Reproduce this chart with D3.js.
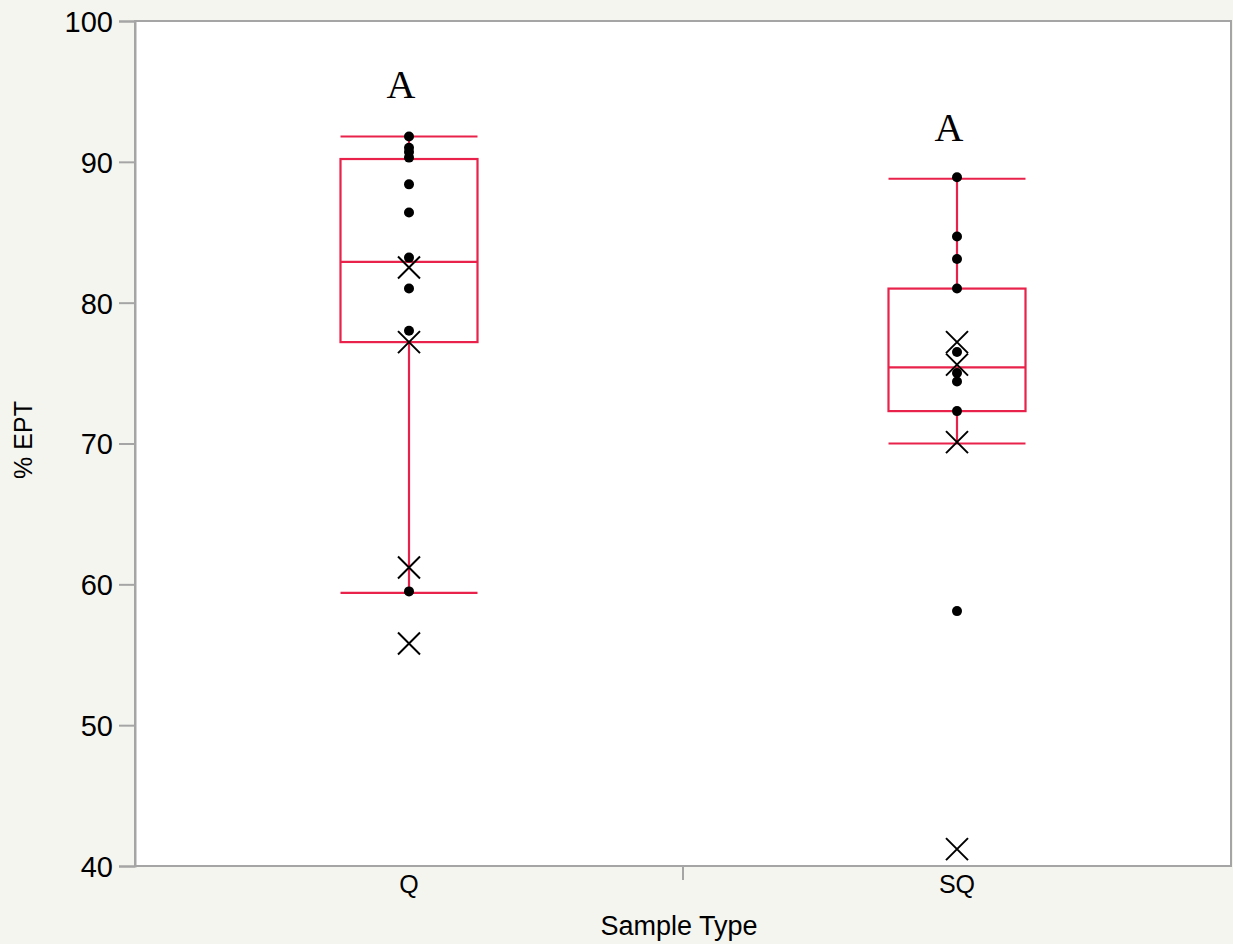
<!DOCTYPE html>
<html>
<head>
<meta charset="utf-8">
<script src="https://cdn.jsdelivr.net/npm/d3@7"></script>
<style>
  body { margin: 0; background: #f5f5f0; }
  svg { display: block; }
</style>
</head>
<body>
<div id="chart"></div>
<script>
// categories and values
const categories = ['Q', 'SQ'];
const letters = ['A', 'A'];
const boxLow = [59.4, 70.0];      // lower whisker cap
const boxQ1 = [77.2, 72.3];
const boxMedian = [82.9, 75.4];
const boxQ3 = [90.2, 81.0];
const boxHigh = [91.8, 88.8];     // upper whisker cap
const qDots = [91.8, 91.0, 90.7, 90.3, 88.4, 86.4, 83.2, 81.0, 78.0, 59.5];
const sqDots = [88.9, 84.7, 83.1, 81.0, 76.5, 75.0, 74.4, 72.3, 58.1];
const qCross = [82.5, 77.2, 61.2, 55.8];
const sqCross = [77.2, 75.6, 70.1, 41.2];
const yTicks = [40, 50, 60, 70, 80, 90, 100];

const dots = [qDots, sqDots];
const crosses = [qCross, sqCross];

const width = 1233, height = 944;
const margin = { top: 21, right: 2, bottom: 78, left: 135 };
const red = '#e8224a';
const grey = '#a5a5a5';

const svg = d3.select('#chart').append('svg')
    .attr('width', width)
    .attr('height', height);

const x = d3.scaleBand().domain(categories).range([margin.left, width - margin.right]).padding(0);
const y = d3.scaleLinear().domain([40, 100]).range([height - margin.bottom, margin.top]);

// plot area
svg.append('rect')
    .attr('x', margin.left).attr('y', margin.top)
    .attr('width', width - margin.right - margin.left)
    .attr('height', y(40) - margin.top)
    .attr('fill', '#fff')
    .attr('stroke', grey).attr('stroke-width', 2);

// y axis
const yAxis = svg.append('g')
    .attr('transform', `translate(${margin.left},0)`)
    .call(d3.axisLeft(y).tickValues(yTicks).tickSize(16).tickPadding(6));
yAxis.select('.domain').attr('stroke', grey).attr('stroke-width', 2);
yAxis.selectAll('.tick line').attr('stroke', grey).attr('stroke-width', 2);
yAxis.selectAll('.tick text')
    .attr('fill', '#000')
    .style('font-family', 'Liberation Sans, Arial, sans-serif')
    .style('font-size', '29px')
    .attr('dy', '0.36em');

// x axis: a tick between the groups, labels at the centers
const xAxisG = svg.append('g').attr('transform', `translate(0,${y(40)})`);
xAxisG.append('line')
    .attr('x1', x('SQ')).attr('x2', x('SQ'))
    .attr('y1', 0).attr('y2', 14)
    .attr('stroke', grey).attr('stroke-width', 2);
xAxisG.selectAll('text.cat')
    .data(categories)
    .enter()
    .append('text')
    .attr('class', 'cat')
    .attr('x', d => x(d) + x.bandwidth() / 2)
    .attr('y', 27)
    .attr('text-anchor', 'middle')
    .style('font-family', 'Liberation Sans, Arial, sans-serif')
    .style('font-size', '25px')
    .text(d => d);

// axis titles
svg.append('text')
    .attr('x', 679)
    .attr('y', 935)
    .attr('text-anchor', 'middle')
    .style('font-family', 'Liberation Sans, Arial, sans-serif')
    .style('font-size', '27px')
    .text('Sample Type');

svg.append('text')
    .attr('transform', 'translate(32,440) rotate(-90)')
    .attr('text-anchor', 'middle')
    .style('font-family', 'Liberation Sans, Arial, sans-serif')
    .style('font-size', '25px')
    .text('% EPT');

// box plots
const boxW = x.bandwidth() * 0.25;
categories.forEach((c, i) => {
    const cx = x(c) + x.bandwidth() / 2;
    const g = svg.append('g');

    // box
    g.append('rect')
        .attr('x', cx - boxW / 2).attr('y', y(boxQ3[i]))
        .attr('width', boxW).attr('height', y(boxQ1[i]) - y(boxQ3[i]))
        .attr('fill', '#fff')
        .attr('stroke', red).attr('stroke-width', 2.2);

    // median + caps
    [boxMedian[i], boxLow[i], boxHigh[i]].forEach(v => {
        g.append('line')
            .attr('x1', cx - boxW / 2).attr('x2', cx + boxW / 2)
            .attr('y1', y(v)).attr('y2', y(v))
            .attr('stroke', red).attr('stroke-width', 2.2);
    });

    // whiskers
    g.append('line')
        .attr('x1', cx).attr('x2', cx)
        .attr('y1', y(boxQ1[i])).attr('y2', y(boxLow[i]))
        .attr('stroke', red).attr('stroke-width', 2.2);
    g.append('line')
        .attr('x1', cx).attr('x2', cx)
        .attr('y1', y(boxQ3[i])).attr('y2', y(boxHigh[i]))
        .attr('stroke', red).attr('stroke-width', 2.2);

    // points
    g.selectAll('circle')
        .data(dots[i])
        .enter()
        .append('circle')
        .attr('cx', cx)
        .attr('cy', d => y(d))
        .attr('r', 5)
        .attr('fill', '#000');

    // crosses
    const s = 11;
    crosses[i].forEach(v => {
        const cy = y(v);
        g.append('path')
            .attr('d', `M${cx - s},${cy - s}L${cx + s},${cy + s}M${cx - s},${cy + s}L${cx + s},${cy - s}`)
            .attr('stroke', '#000').attr('stroke-width', 2).attr('fill', 'none');
    });

    // letter label
    g.append('text')
        .attr('x', cx - 8)
        .attr('y', y(boxHigh[i]) - 38)
        .attr('text-anchor', 'middle')
        .style('font-family', 'Liberation Serif, Times New Roman, serif')
        .style('font-size', '40px')
        .text(letters[i]);
});
</script>
</body>
</html>
